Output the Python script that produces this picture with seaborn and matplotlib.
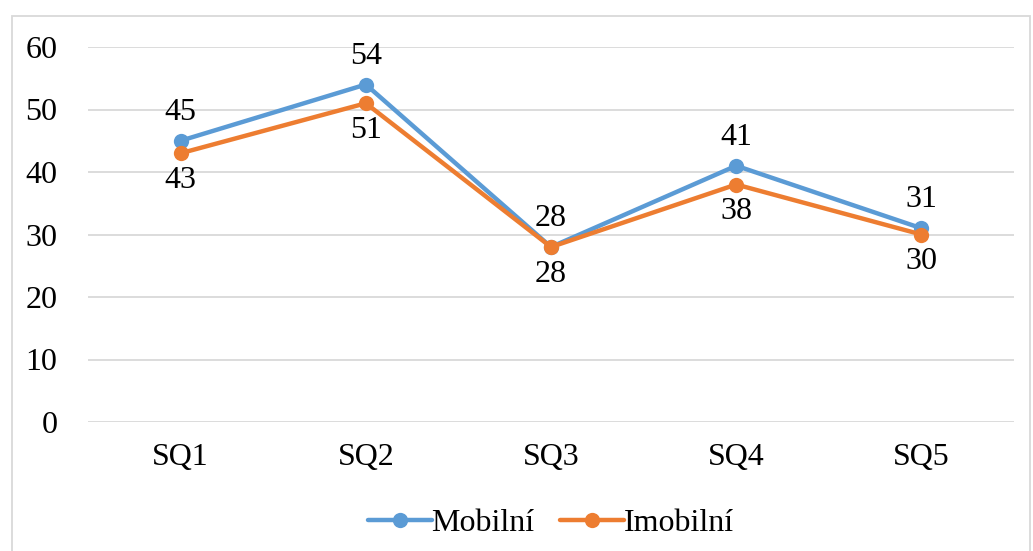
import pandas as pd
import matplotlib.pyplot as plt
import seaborn as sns
from matplotlib.patches import Rectangle

categories = ["SQ1", "SQ2", "SQ3", "SQ4", "SQ5"]
mobilni = [45, 54, 28, 41, 31]
imobilni = [43, 51, 28, 38, 30]
series_names = ["Mobilní", "Imobilní"]
colors = ["#5B9BD5", "#ED7D31"]

df = pd.DataFrame({
    "kategorie": categories * 2,
    "hodnota": mobilni + imobilni,
    "skupina": [series_names[0]] * 5 + [series_names[1]] * 5,
})

sns.set_theme(style="white")
plt.rcParams["font.family"] = ["Liberation Serif", "DejaVu Serif"]
plt.rcParams["text.color"] = "black"

fig = plt.figure(figsize=(10.33, 5.51), dpi=100)
ax = fig.add_axes([88 / 1033, 129 / 551, (1014 - 88) / 1033, (422 - 47) / 551])

sns.lineplot(data=df, x="kategorie", y="hodnota", hue="skupina",
             palette=colors, marker="o", markersize=11, markeredgewidth=0,
             linewidth=3.2, ax=ax, sort=False)

ax.set_xlim(-0.5, 4.5)
ax.set_ylim(0, 60)
ax.set_yticks(range(0, 61, 10))
ax.grid(axis="y", color="#D9D9D9", linewidth=1.3)
ax.set_axisbelow(True)
for s in ax.spines.values():
    s.set_visible(False)
ax.set_xlabel("")
ax.set_ylabel("")
ax.tick_params(axis="both", length=0, labelsize=23, labelcolor="black")
ax.tick_params(axis="y", pad=22)
ax.tick_params(axis="x", pad=15)

# data labels: Mobilní above, Imobilní below
for i, v in enumerate(mobilni):
    ax.annotate(str(v), (i, v), xytext=(0, 10), textcoords="offset points",
                ha="center", va="bottom", fontsize=23, color="black")
for i, v in enumerate(imobilni):
    ax.annotate(str(v), (i, v), xytext=(0, -9), textcoords="offset points",
                ha="center", va="top", fontsize=23, color="black")

handles, labels = ax.get_legend_handles_labels()
leg = ax.legend(handles, labels, loc="center", bbox_to_anchor=(0.5, -0.27),
                ncol=2, frameon=False, fontsize=23, handlelength=2.0,
                handletextpad=0.0, columnspacing=0.8)
for t in leg.get_texts():
    t.set_color("black")

# chart border (bottom edge runs off the image, as in the reference)
fig.patches.append(Rectangle((12 / 1033, -10 / 551), 1018 / 1033, 545 / 551,
                             transform=fig.transFigure, fill=False,
                             edgecolor="#D9D9D9", linewidth=1.3))

fig.savefig("out.png", dpi=100)
